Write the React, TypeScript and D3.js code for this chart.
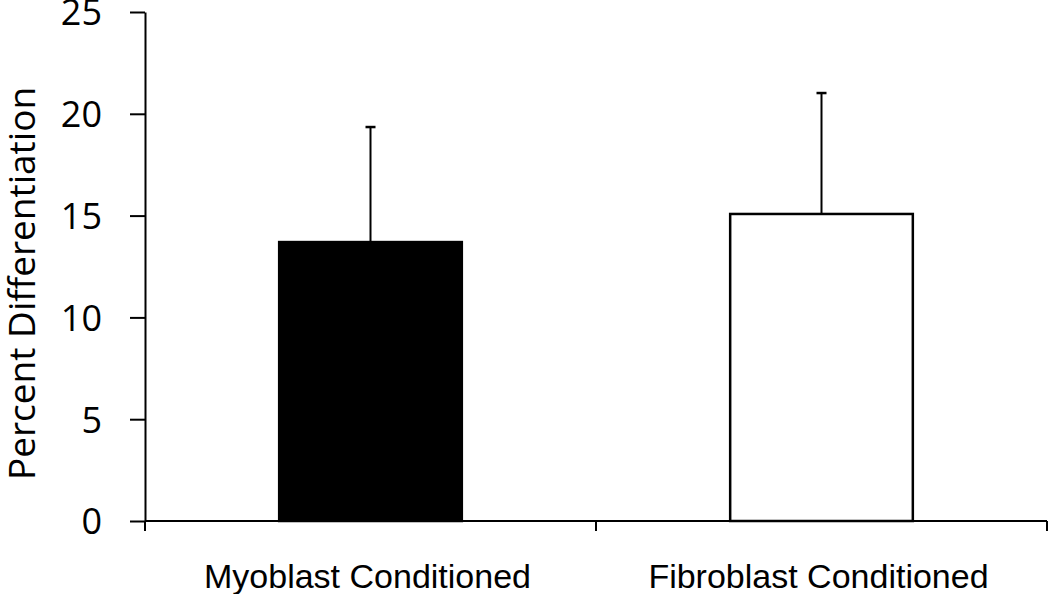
import React, { useEffect, useRef } from "react";
import * as d3 from "d3";

const categories = ["Myoblast Conditioned", "Fibroblast Conditioned"];
const means = [13.7, 15.08];
const errors = [5.65, 5.94];
const barFills = ["#000000", "#ffffff"];
const yTicks = [0, 5, 10, 15, 20, 25];
const yLabel = "Percent Differentiation";

const W = 1050;
const H = 594;

export default function App() {
  const ref = useRef<SVGSVGElement | null>(null);

  useEffect(() => {
    const svg = d3.select(ref.current);
    svg.selectAll("*").remove();

    const x0 = 145, x1 = 1047, y0 = 521, y1 = 12;
    const y = d3.scaleLinear().domain([0, 25]).range([y0, y1]);
    const slot = d3.scaleBand<string>().domain(categories).range([x0, x1]).padding(0);
    const xb = d3
      .scaleBand<string>()
      .domain(categories)
      .range([x0, x1])
      .paddingInner(0.595)
      .paddingOuter(0.2975);

    const g = svg.append("g");

    // bars
    g.selectAll("rect.bar")
      .data(categories)
      .join("rect")
      .attr("class", "bar")
      .attr("x", (d) => xb(d)!)
      .attr("width", xb.bandwidth())
      .attr("y", (_d, i) => y(means[i]))
      .attr("height", (_d, i) => y(0) - y(means[i]))
      .attr("fill", (_d, i) => barFills[i])
      .attr("stroke", "#000")
      .attr("stroke-width", 2.5);

    // error bars
    categories.forEach((c, i) => {
      const cx = xb(c)! + xb.bandwidth() / 2;
      g.append("line")
        .attr("x1", cx)
        .attr("x2", cx)
        .attr("y1", y(means[i]))
        .attr("y2", y(means[i] + errors[i]))
        .attr("stroke", "#000")
        .attr("stroke-width", 2);
      g.append("line")
        .attr("x1", cx - 5)
        .attr("x2", cx + 5)
        .attr("y1", y(means[i] + errors[i]))
        .attr("y2", y(means[i] + errors[i]))
        .attr("stroke", "#000")
        .attr("stroke-width", 2.5);
    });

    // y axis
    const yAxis = d3
      .axisLeft(y)
      .tickValues(yTicks)
      .tickSize(15)
      .tickSizeOuter(0)
      .tickPadding(28)
      .tickFormat(d3.format("d"));
    const ya = g.append("g").attr("transform", `translate(${x0},0)`).call(yAxis);
    ya.select(".domain").attr("stroke", "#000").attr("stroke-width", 2);
    ya.selectAll(".tick line").attr("stroke", "#000").attr("stroke-width", 2);
    ya.selectAll(".tick text")
      .attr("fill", "#000")
      .attr("font-family", "'Open Sans', sans-serif")
      .attr("font-size", 36)
      .attr("dy", "0.36em");

    // x axis
    const xEdges = [...categories.map((c) => slot(c)!), x1];
    g.append("line")
      .attr("x1", x0)
      .attr("x2", x1)
      .attr("y1", y0)
      .attr("y2", y0)
      .attr("stroke", "#000")
      .attr("stroke-width", 2);
    g.selectAll("line.xtick")
      .data(xEdges)
      .join("line")
      .attr("class", "xtick")
      .attr("x1", (d) => d)
      .attr("x2", (d) => d)
      .attr("y1", y0)
      .attr("y2", y0 + 10)
      .attr("stroke", "#000")
      .attr("stroke-width", 2);
    g.selectAll("text.xlab")
      .data(categories)
      .join("text")
      .attr("class", "xlab")
      .attr("x", (d) => slot(d)! + slot.bandwidth() / 2 - 3)
      .attr("y", 588)
      .attr("text-anchor", "middle")
      .attr("font-family", "'Liberation Sans', Arial, sans-serif")
      .attr("font-size", 34)
      .attr("fill", "#000")
      .text((d) => d);

    // y label
    g.append("text")
      .attr("transform", `translate(35,${(85 + 482) / 2}) rotate(-90)`)
      .attr("text-anchor", "middle")
      .attr("font-family", "'Open Sans', sans-serif")
      .attr("font-size", 37)
      .attr("fill", "#000")
      .text(yLabel);
  }, []);

  return (
    <svg
      ref={ref}
      width={W}
      height={H}
      style={{ position: "absolute", left: 0, top: 0, background: "#fff" }}
    />
  );
}
